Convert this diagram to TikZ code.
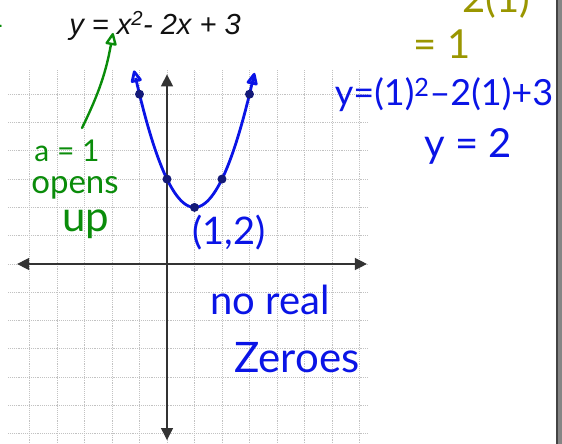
\documentclass[tikz,border=0pt]{standalone}
\usepackage{fontspec}
\setmainfont{Liberation Sans}
\newfontfamily\handfont{Lato}
\usetikzlibrary{arrows.meta}
\definecolor{Ink}{HTML}{111111}
\definecolor{Axis}{HTML}{333333}
\definecolor{GridLine}{HTML}{C2C2C2}
\definecolor{PenBlue}{HTML}{0A14E6}
\definecolor{PenGreen}{HTML}{0A8C0A}
\definecolor{PenOlive}{HTML}{9A9600}
\definecolor{DotNavy}{HTML}{141A78}
\definecolor{EdgeDark}{HTML}{444444}
\definecolor{EdgeMid}{HTML}{858585}
\tikzset{
  gridline/.style={draw=GridLine,line width=0.9pt,densely dotted},
  axis/.style={draw=Axis,line width=1.3pt,{Triangle[length=12pt,width=12pt]}-{Triangle[length=12pt,width=12pt]}},
  curve/.style={draw=PenBlue,line width=2.8pt,line cap=round,
    {Triangle[open,length=14pt,width=12pt,round]}-{Triangle[open,length=14pt,width=12pt,round]}},
  upArrow/.style={draw=PenGreen,line width=2.4pt,line cap=round,-{Triangle[open,length=14pt,width=12pt,round]}},
  dot/.style={circle,fill=DotNavy,inner sep=0pt,minimum size=9pt},
  pen/.style={font=\handfont\fontsize{#1}{#1}\selectfont,inner sep=0pt},
  pen/.default=32,
  penblue/.style={pen=#1,text=PenBlue},
  penblue/.default=38,
  pengreen/.style={pen=#1,text=PenGreen},
  pengreen/.default=32,
  penolive/.style={pen=#1,text=PenOlive},
  penolive/.default=40,
  title/.style={font=\itshape\fontsize{29}{32}\selectfont,text=Ink,inner sep=0pt}
}

\begin{document}
\begin{tikzpicture}[x=27.5pt,y=28.3pt]
  \useasboundingbox (-167pt,-180pt) rectangle (395pt,264pt);
  \fill[white] (-167pt,-180pt) rectangle (395pt,264pt);
  % dotted grid
  \foreach \i in {-5,...,7}
    \draw[gridline] (\i,-6.4) -- (\i,6.85);
  \foreach \j in {-6,...,6}
    \draw[gridline] (-5.78,\j) -- (7.31,\j);
  % axes
  \coordinate (xmin) at (-5.45,0);
  \coordinate (xmax) at (7.27,0);
  \coordinate (ymin) at (0,-6.22);
  \coordinate (ymax) at (0,6.7);
  \draw[axis] (xmin) -- (xmax);
  \draw[axis] (ymin) -- (ymax);
  % the parabola and its points
  \draw[curve] plot[domain=-1.2:3.18,samples=60,smooth] (\x,{\x*\x-2*\x+3});
  \foreach \px/\py [count=\k] in {-1/6,0/3,1/2,2/3,3/6}
    \node[dot] (pt\k) at (\px,\py) {};
  % title
  \node[title] (eqn) at (-12pt,238pt) {y = x\textsuperscript{2}- 2x + 3};
  % notes on the left
  \node[pengreen=30] (aval) at (-100pt,113pt) {a = 1};
  \node[pengreen=33] (opens) at (-92pt,76pt) {opens};
  \node[pengreen=42] (up) at (-81pt,40pt) {up};
  \coordinate (upTail) at (-85pt,136pt);
  \coordinate (upTip) at (-54pt,231pt);
  \draw[upArrow] (upTail) to[bend right=8] (upTip);
  \draw[PenGreen,line width=2pt] (-167pt,238pt) -- (-165.5pt,238.5pt);
  % notes on the right
  \node[penolive] (twoone) at (329pt,264pt) {2(1)};
  \node[penolive] (eqone) at (275pt,220pt) {= 1};
  \node[penblue=36] (subst) at (277pt,169pt) {y=(1)\textsuperscript{2}–2(1)+3};
  \node[penblue=40] (ytwo) at (301pt,118pt) {y = 2};
  \node[penblue] (vertex) at (62pt,31pt) {(1,2)};
  \node[penblue=40] (noreal) at (103pt,-36pt) {no real};
  \node[penblue=42] (zeroes) at (130pt,-94pt) {Zeroes};
  % window edge
  \fill[EdgeDark] (389pt,-180pt) rectangle (391pt,264pt);
  \fill[EdgeMid] (391pt,-180pt) rectangle (395pt,264pt);
\end{tikzpicture}
\end{document}
